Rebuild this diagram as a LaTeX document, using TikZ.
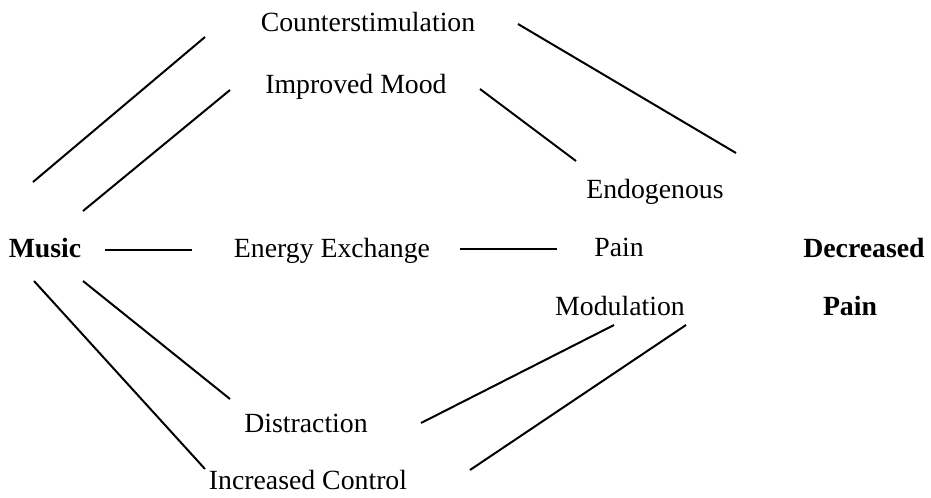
\documentclass[tikz,border=0pt]{standalone}
\usepackage{fontspec}
\setmainfont{Liberation Serif}
\usetikzlibrary{positioning}

\tikzset{
	factor/.style={anchor=base,inner sep=0pt,font=\fontsize{23.7}{28}\selectfont},
	outcome/.style={anchor=base,inner sep=0pt,font=\fontsize{23.7}{28}\selectfont\bfseries},
	link/.style={line width=1.7pt}
}

\begin{document}
\begin{tikzpicture}[x=0.03cm,y=-0.03cm]
		\useasboundingbox (0,0) rectangle (931,497);
		\node[outcome] (Music) at (45,257) {Music};
		\node[factor] (Counter) at (368,31) {Counterstimulation};
		\node[factor] (Mood) at (356,93) {Improved Mood};
		\node[factor] (Energy) at (332,257) {Energy Exchange};
		\node[factor] (Distr) at (306,432) {Distraction};
		\node[factor] (Control) at (308,489) {Increased Control};
		
		\node[factor] (Endo) at (655,198) {Endogenous};
		\node[factor] (EPain) at (619,256) {Pain};
		\node[factor] (Modul) at (620,315) {Modulation};
		
		\node[outcome] (Decr) at (864,257) {Decreased};
		\node[outcome] (DPain) at (850,315) {Pain};
		%
		\coordinate (m1) at (33,182);   \coordinate (c1) at (205,37);
		\coordinate (m2) at (83,211);   \coordinate (i1) at (230,90);
		\coordinate (m3) at (105,250);  \coordinate (e1) at (192,250);
		\coordinate (e2) at (460,249);  \coordinate (p1) at (557,249);
		\coordinate (c2) at (518,24);   \coordinate (d1) at (736,153);
		\coordinate (i2) at (480,89);   \coordinate (p2) at (576,161);
		\coordinate (m4) at (34,281);   \coordinate (k1) at (205,469);
		\coordinate (m5) at (83,281);   \coordinate (t1) at (230,399);
		\coordinate (t2) at (421,423);  \coordinate (p3) at (614,325);
		\coordinate (k2) at (470,470);  \coordinate (d2) at (686,325);
		%
		\path[link]
		(m1) edge (c1)
		(m2) edge (i1)
		(m3) edge (e1)
		(e2) edge (p1)
		(c2) edge (d1)
		(i2) edge (p2)
		(m4) edge (k1)
		(m5) edge (t1)
		(t2) edge (p3)
		(k2) edge (d2);
		
\end{tikzpicture}
\end{document}
